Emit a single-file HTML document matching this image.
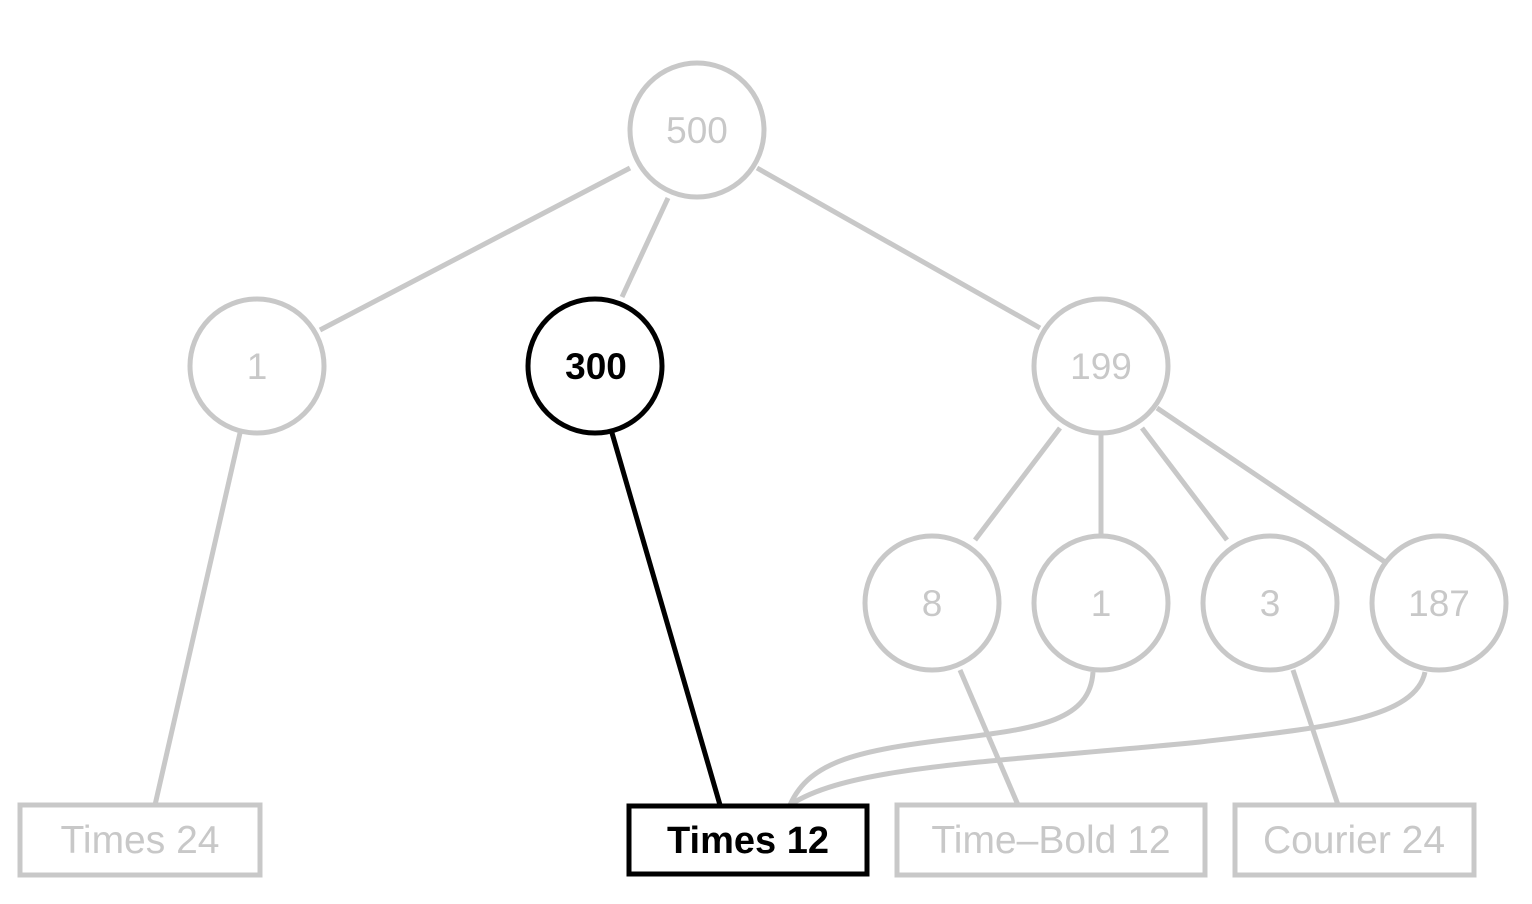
<!DOCTYPE html>
<html><head><style>
html,body{margin:0;padding:0;background:#fff;}
</style></head><body>
<svg width="1532" height="904" viewBox="0 0 1532 904" xmlns="http://www.w3.org/2000/svg" style="display:block">
<g stroke="#c8c8c8" stroke-width="5" fill="none">
<line x1="630" y1="168" x2="320" y2="330"/>
<line x1="668" y1="198" x2="622" y2="297"/>
<line x1="757" y1="168" x2="1040" y2="328"/>
<line x1="240" y1="433" x2="155" y2="805"/>
<line x1="1060" y1="428" x2="975" y2="540"/>
<line x1="1101" y1="433" x2="1101" y2="536"/>
<line x1="1142" y1="428" x2="1227" y2="540"/>
<line x1="1157" y1="408" x2="1385" y2="562"/>
<line x1="960" y1="670" x2="1018" y2="805"/>
<line x1="1293" y1="670" x2="1338" y2="805"/>
<path d="M1093 672 C1090 720 1040 728 960 738 C860 750 810 760 790 805"/>
<path d="M1425 672 C1415 720 1320 728 1200 742 C1000 762 850 765 790 805"/>
<circle cx="697" cy="130" r="67"/>
<circle cx="257" cy="366" r="67"/>
<circle cx="1101" cy="366" r="67"/>
<circle cx="932" cy="603" r="67"/>
<circle cx="1101" cy="603" r="67"/>
<circle cx="1270" cy="603" r="67"/>
<circle cx="1439" cy="603" r="67"/>
<rect x="20" y="805" width="240" height="70"/>
<rect x="897" y="805" width="308" height="70"/>
<rect x="1235" y="805" width="239" height="70"/>
</g>
<g stroke="#000" stroke-width="5" fill="none">
<line x1="612" y1="433" x2="720" y2="805"/>
<circle cx="595" cy="366" r="67"/>
<rect x="629" y="806" width="238" height="68"/>
</g>
<g font-family="Liberation Sans, sans-serif" text-anchor="middle" fill="#c8c8c8" font-size="37">
<text x="697" y="143">500</text>
<text x="257" y="379">1</text>
<text x="1101" y="379">199</text>
<text x="932" y="616">8</text>
<text x="1101" y="616">1</text>
<text x="1270" y="616">3</text>
<text x="1439" y="616">187</text>
<text x="140" y="853" font-size="39">Times 24</text>
<text x="1051" y="853" font-size="39">Time–Bold 12</text>
<text x="1354" y="853" font-size="39">Courier 24</text>
<text x="596" y="379" fill="#000" font-weight="bold">300</text>
<text x="748" y="853" fill="#000" font-weight="bold" font-size="38">Times 12</text>
</g>
</svg>
</body></html>
